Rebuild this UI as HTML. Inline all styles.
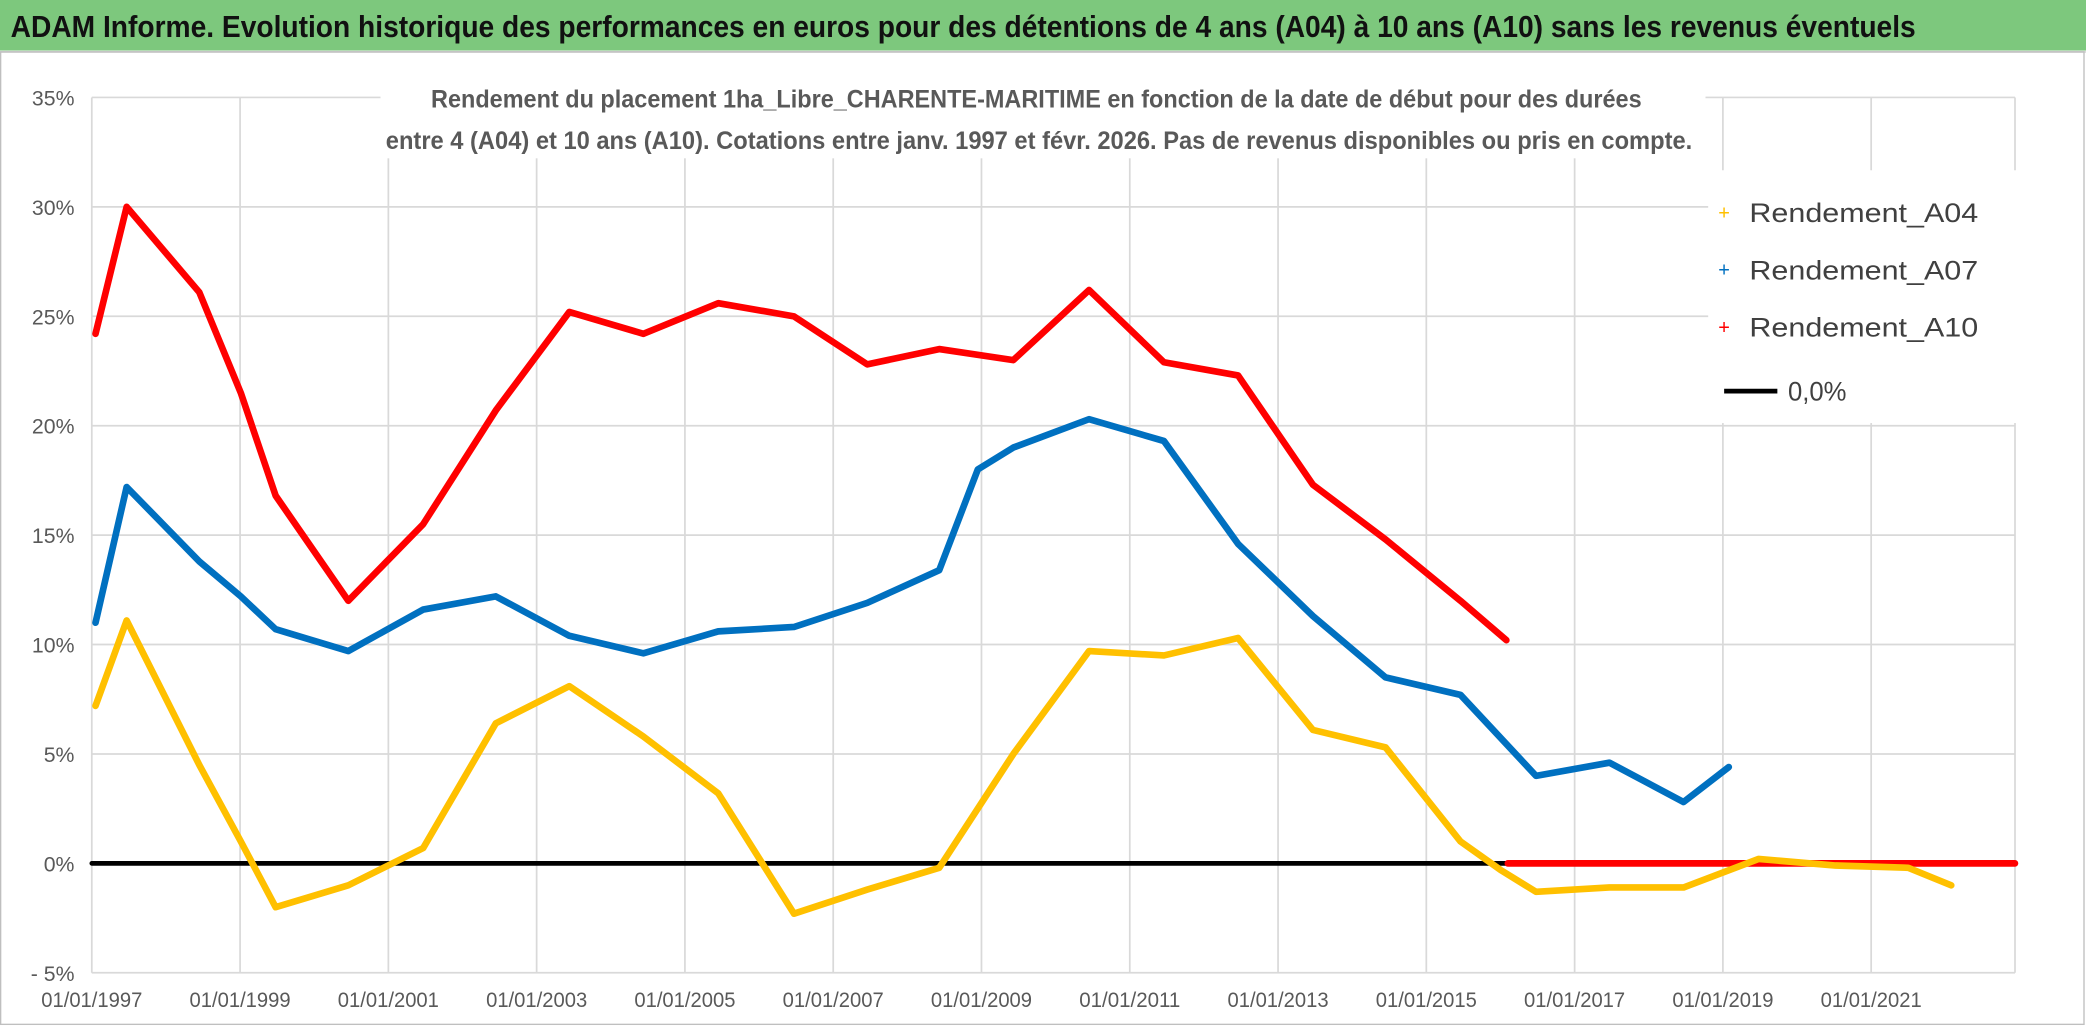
<!DOCTYPE html>
<html><head><meta charset="utf-8"><style>
html,body{margin:0;padding:0;background:#fff;}
svg{display:block;}
text{font-family:"Liberation Sans",sans-serif;}
</style></head><body>
<svg id="chart" width="2086" height="1031" viewBox="0 0 1568 775" preserveAspectRatio="none" xmlns="http://www.w3.org/2000/svg">
<rect x="0" y="0" width="1568" height="775" fill="#fff"/>
<rect x="0" y="0" width="1568" height="38" fill="#7dc87d"/>
<line x1="0" y1="39" x2="1568" y2="39" stroke="#d9d9d9" stroke-width="1.5"/>
<text x="8" y="28" font-size="23" font-weight="bold" fill="#111" textLength="1432" lengthAdjust="spacingAndGlyphs">ADAM Informe. Evolution historique des performances en euros pour des détentions de 4 ans (A04) à 10 ans (A10) sans les revenus éventuels</text>
<rect x="0.5" y="39" width="1566" height="731" fill="none" stroke="#bfbfbf" stroke-width="1"/>
<g id="grid"></g>
<g id="yaxis"></g>
<g id="xaxis"></g>
<rect x="286" y="50" width="996" height="69" fill="#fff"/>
<text x="779" y="81" text-anchor="middle" font-size="19" font-weight="bold" fill="#595959" textLength="910" lengthAdjust="spacingAndGlyphs">Rendement du placement 1ha_Libre_CHARENTE-MARITIME en fonction de la date de début pour des durées</text>
<text x="781" y="112" text-anchor="middle" font-size="19" font-weight="bold" fill="#595959" textLength="982" lengthAdjust="spacingAndGlyphs">entre 4 (A04) et 10 ans (A10). Cotations entre janv. 1997 et févr. 2026. Pas de revenus disponibles ou pris en compte.</text>
<g id="series"></g>
<g>
<rect x="1284" y="128" width="236" height="190" fill="#fff"/>
<g>
<text x="1296" y="165" font-size="15" fill="#ffc000" text-anchor="middle">+</text>
<text x="1315" y="167" font-size="20" fill="#404040" textLength="172" lengthAdjust="spacingAndGlyphs">Rendement_A04</text></g>
<g>
<text x="1296" y="208" font-size="15" fill="#0070c0" text-anchor="middle">+</text>
<text x="1315" y="210" font-size="20" fill="#404040" textLength="172" lengthAdjust="spacingAndGlyphs">Rendement_A07</text></g>
<g>
<text x="1296" y="251" font-size="15" fill="#ff0000" text-anchor="middle">+</text>
<text x="1315" y="253" font-size="20" fill="#404040" textLength="172" lengthAdjust="spacingAndGlyphs">Rendement_A10</text></g>
<g>
<line x1="1296" y1="294" x2="1336" y2="294" stroke="#000" stroke-width="3.5"/>
<text x="1344" y="301" font-size="20" fill="#404040" textLength="44" lengthAdjust="spacingAndGlyphs">0,0%</text></g>
</g>
</svg>
<script>
const yTicks=[-5,0,5,10,15,20,25,30,35];
const yTickLabels=["- 5%","0%","5%","10%","15%","20%","25%","30%","35%"];
const xTicks=[1997,1999,2001,2003,2005,2007,2009,2011,2013,2015,2017,2019,2021];
const xTickLabels=["01/01/1997","01/01/1999","01/01/2001","01/01/2003","01/01/2005","01/01/2007","01/01/2009","01/01/2011","01/01/2013","01/01/2015","01/01/2017","01/01/2019","01/01/2021"];
const a04Dates=[1997.05,1997.47,1998.45,1999.01,1999.48,2000.46,2001.47,2002.45,2003.44,2004.44,2005.45,2006.47,2007.46,2008.43,2009.43,2010.45,2011.46,2012.46,2013.47,2014.45,2015.46,2016.0,2016.48,2017.47,2018.47,2019.48,2020.52,2021.5,2022.08];
const a04Values=[7.2,11.1,4.5,1.0,-2.0,-1.0,0.7,6.4,8.1,5.8,3.2,-2.3,-1.2,-0.2,5.0,9.7,9.5,10.3,6.1,5.3,1.0,-0.3,-1.3,-1.1,-1.1,0.2,-0.1,-0.2,-1.0];
const a07Dates=[1997.05,1997.47,1998.45,1999.01,1999.48,2000.46,2001.47,2002.45,2003.44,2004.44,2005.45,2006.47,2007.46,2008.43,2008.95,2009.43,2010.45,2011.46,2012.46,2013.47,2014.45,2015.46,2016.48,2017.47,2018.47,2019.08];
const a07Values=[11.0,17.2,13.8,12.2,10.7,9.7,11.6,12.2,10.4,9.6,10.6,10.8,11.9,13.4,18.0,19.0,20.3,19.3,14.6,11.3,8.5,7.7,4.0,4.6,2.8,4.4];
const a10Dates=[1997.05,1997.47,1998.45,1999.01,1999.48,2000.46,2001.47,2002.45,2003.44,2004.44,2005.45,2006.47,2007.46,2008.43,2009.43,2010.45,2011.46,2012.46,2013.47,2014.45,2015.46,2016.08];
const a10Values=[24.2,30.0,26.1,21.5,16.8,12.0,15.5,20.7,25.2,24.2,25.6,25.0,22.8,23.5,23.0,26.2,22.9,22.3,17.3,14.8,12.0,10.2];
const a10TailDates=[2016.1,2022.94];
const a10TailValues=[0,0];
const zeroDates=[1997.0,2016.1];
const zeroValues=[0,0];
const X0=69,XPY=55.73,Y0=649,YPP=16.45;
const xs=d=>X0+(d-1997)*XPY;
const ys=v=>Y0-v*YPP;
const NS="http://www.w3.org/2000/svg";
const mk=(t,a,p)=>{const e=document.createElementNS(NS,t);for(const k in a)e.setAttribute(k,a[k]);p.appendChild(e);return e;};
const grid=document.getElementById('grid'),yax=document.getElementById('yaxis'),xax=document.getElementById('xaxis'),ser=document.getElementById('series');
const xEnd=xs(2022.94);
yTicks.forEach((v,i)=>{
 const l=mk('line',{x1:X0,x2:xEnd,y1:ys(v),y2:ys(v),stroke:'#d9d9d9','stroke-width':1.3},grid);
 
 
 const t=mk('text',{x:56,y:ys(v)+6,'text-anchor':'end','font-size':16,fill:'#595959'},yax);
 t.textContent=yTickLabels[i];
 
 
});
xTicks.forEach((d,i)=>{
 const l=mk('line',{x1:xs(d),x2:xs(d),y1:ys(35),y2:ys(-5),stroke:'#d9d9d9','stroke-width':1.3},grid);
 
 
 const t=mk('text',{x:xs(d),y:757,'text-anchor':'middle','font-size':16,fill:'#595959',textLength:76,lengthAdjust:'spacingAndGlyphs'},xax);
 t.textContent=xTickLabels[i];
 
 
});
const lEnd=mk('line',{x1:xEnd,x2:xEnd,y1:ys(35),y2:ys(-5),stroke:'#d9d9d9','stroke-width':1.3},grid);


function draw(dates,vals,color,w,name){
 const pts=dates.map((d,i)=>xs(d).toFixed(1)+','+ys(vals[i]).toFixed(1)).join(' ');
 const p=mk('polyline',{points:pts,fill:'none',stroke:color,'stroke-width':w,'stroke-linejoin':'round','stroke-linecap':'round'},ser);
 
 
}
draw(zeroDates,zeroValues,'#000',3.5,'zero-line');
draw(a10TailDates,a10TailValues,'#ff0000',5,'series-a10-zero-tail');
draw(a10Dates,a10Values,'#ff0000',5,'series-a10');
draw(a07Dates,a07Values,'#0070c0',5,'series-a07');
draw(a04Dates,a04Values,'#ffc000',5,'series-a04');
</script>
</body></html>
